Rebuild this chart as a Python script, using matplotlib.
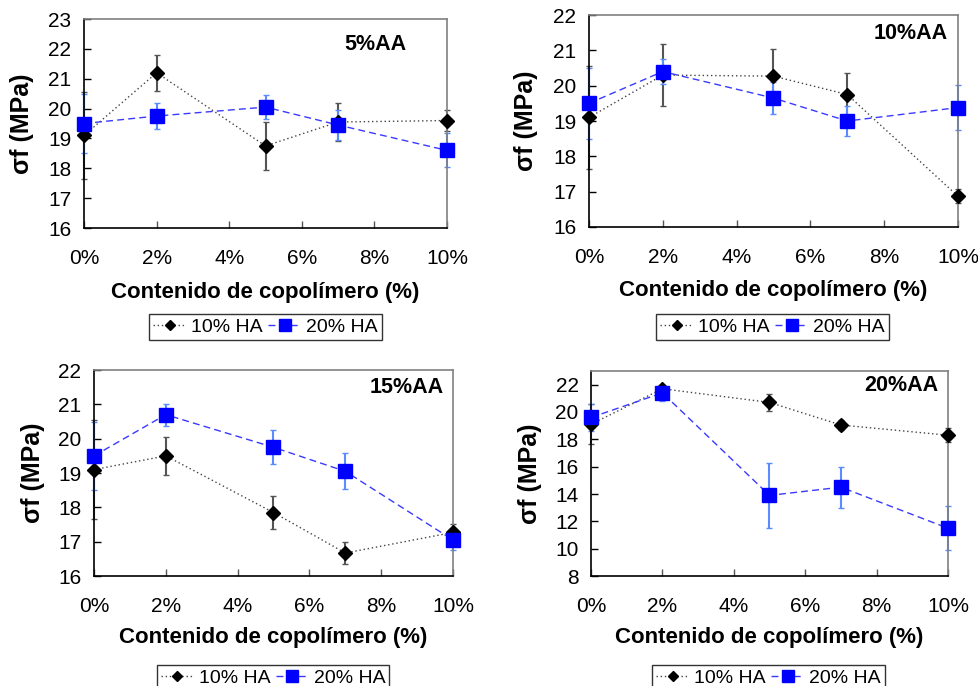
import matplotlib.pyplot as plt

plt.rcParams['font.family'] = ['Liberation Sans', 'DejaVu Sans']

# copolymer content (%) for every series
x = [0, 2, 5, 7, 10]
xticks = [0, 2, 4, 6, 8, 10]

# flexural strength (MPa) and std. deviation, 10% HA / 20% HA
aa5_ha10 = [19.1, 21.2, 18.75, 19.55, 19.6]
aa5_ha10_err = [1.45, 0.6, 0.8, 0.65, 0.35]
aa5_ha20 = [19.5, 19.75, 20.05, 19.45, 18.6]
aa5_ha20_err = [1.0, 0.45, 0.4, 0.5, 0.57]

aa10_ha10 = [19.1, 20.3, 20.27, 19.75, 16.87]
aa10_ha10_err = [1.45, 0.87, 0.78, 0.6, 0.2]
aa10_ha20 = [19.5, 20.4, 19.65, 19.0, 19.38]
aa10_ha20_err = [1.0, 0.35, 0.45, 0.42, 0.63]

aa15_ha10 = [19.1, 19.5, 17.85, 16.67, 17.27]
aa15_ha10_err = [1.45, 0.55, 0.47, 0.32, 0.25]
aa15_ha20 = [19.5, 20.7, 19.75, 19.05, 17.05]
aa15_ha20_err = [1.0, 0.32, 0.5, 0.52, 0.3]

aa20_ha10 = [19.1, 21.7, 20.7, 19.05, 18.3]
aa20_ha10_err = [1.45, 0.3, 0.65, 0.4, 0.5]
aa20_ha20 = [19.6, 21.4, 13.9, 14.5, 11.5]
aa20_ha20_err = [1.0, 0.6, 2.4, 1.5, 1.6]

panels = [
    ('5%AA', aa5_ha10, aa5_ha10_err, aa5_ha20, aa5_ha20_err, (16, 23), range(16, 24)),
    ('10%AA', aa10_ha10, aa10_ha10_err, aa10_ha20, aa10_ha20_err, (16, 22), range(16, 23)),
    ('15%AA', aa15_ha10, aa15_ha10_err, aa15_ha20, aa15_ha20_err, (16, 22), range(16, 23)),
    ('20%AA', aa20_ha10, aa20_ha10_err, aa20_ha20, aa20_ha20_err, (8, 23), range(8, 23, 2)),
]

# axes boxes [left, bottom, width, height] in figure fractions
boxes = [
    [0.0858, 0.6676, 0.3708, 0.3047],
    [0.6016, 0.6691, 0.3769, 0.3090],
    [0.0960, 0.1603, 0.3667, 0.3003],
    [0.6037, 0.1603, 0.3646, 0.2989],
]
title_pos = [(0.887, 0.88), (0.973, 0.915), (0.975, 0.913), (0.972, 0.927)]
legend_pos = [(0.2712, 0.5233), (0.789, 0.5233), (0.2789, 0.012), (0.785, 0.012)]
xlabel_y = [-0.31, -0.30, -0.30, -0.30]
ylabel_x = [-0.17, -0.17, -0.17, -0.17]

fig = plt.figure(figsize=(9.79, 6.86), dpi=100)

for i, (name, b, be, s, se, ylim, yt) in enumerate(panels):
    ax = fig.add_axes(boxes[i])
    ax.errorbar(x, b, yerr=be, fmt='none', ecolor='#555555', elinewidth=1.5,
                capsize=2.5, capthick=1, clip_on=False, zorder=2)
    ax.errorbar(x, s, yerr=se, fmt='none', ecolor='#5a8cff', elinewidth=1.5,
                capsize=2.5, capthick=1, clip_on=False, zorder=2)
    l1, = ax.plot(x, b, color='#444444', ls=(0, (1, 2)), lw=1, marker='D',
                  ms=7, mfc='black', mec='black', clip_on=False, zorder=3,
                  label='10% HA')
    l2, = ax.plot(x, s, color='#3a3aff', ls=(0, (5, 3)), lw=1, marker='s',
                  ms=10, mfc='#0000ff', mec='#0000ff', clip_on=False, zorder=4,
                  label='20% HA')

    ax.set_xlim(0, 10)
    ax.set_ylim(*ylim)
    ax.set_xticks(xticks)
    ax.set_xticklabels([f'{t}%' for t in xticks])
    ax.set_yticks(list(yt))
    ax.tick_params(axis='both', direction='in', length=5, labelsize=15, width=1)
    ax.tick_params(axis='x', pad=15, color='#555555')
    ax.tick_params(axis='y', pad=9)

    for side in ['top', 'right']:
        ax.spines[side].set_color('#808080')
    ax.spines['left'].set_color('black')
    ax.spines['bottom'].set_color('black')
    for sp in ax.spines.values():
        sp.set_linewidth(1.2)

    ax.text(title_pos[i][0], title_pos[i][1], name, transform=ax.transAxes,
            ha='right', va='center', fontsize=15.5, fontweight='bold')
    ax.text(0.5, xlabel_y[i], 'Contenido de copolímero (%)', transform=ax.transAxes,
            ha='center', va='center', fontsize=16, fontweight='bold')
    ax.text(ylabel_x[i], 0.5, 'σf (MPa)', transform=ax.transAxes, rotation=90,
            ha='center', va='center', fontsize=18, fontweight='bold')

    leg = fig.legend(handles=[l1, l2], loc='center', bbox_to_anchor=legend_pos[i],
                     ncol=2, fontsize=14, frameon=True, fancybox=False,
                     handlelength=1.7, handletextpad=0.25, columnspacing=0.3,
                     borderpad=0.2, borderaxespad=0, markerscale=0.8)
    leg.get_frame().set_edgecolor('black')
    leg.get_frame().set_linewidth(1)

fig.savefig('out.png', dpi=100)
